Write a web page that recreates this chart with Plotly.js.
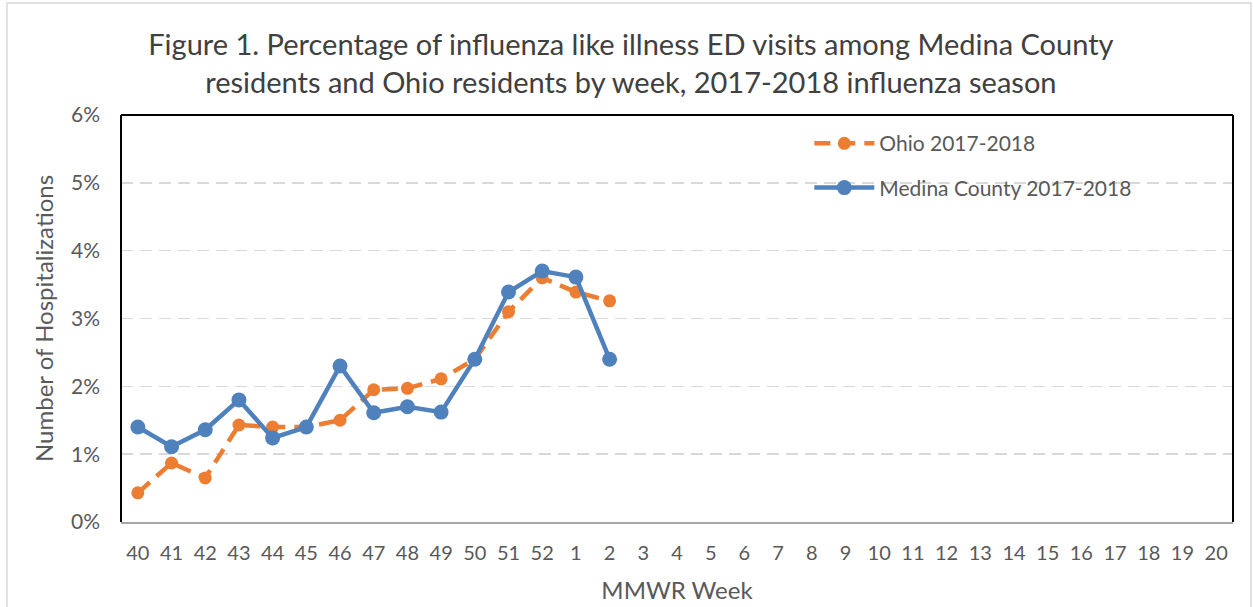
<!DOCTYPE html>
<html><head><meta charset="utf-8">
<script src="https://cdn.plot.ly/plotly-3.0.1.min.js"></script>
<style>html,body{margin:0;padding:0;background:#fff}#chart{width:1253px;height:607px}</style>
</head><body><div id="chart"></div>
<script>
const weeks = ["40","41","42","43","44","45","46","47","48","49","50","51","52","1","2","3","4","5","6","7","8","9","10","11","12","13","14","15","16","17","18","19","20"];
const dataWeeks = ["40","41","42","43","44","45","46","47","48","49","50","51","52","1","2"];
const ohio = [0.43,0.87,0.65,1.43,1.40,1.40,1.50,1.95,1.97,2.11,2.40,3.10,3.60,3.39,3.26];
const medina = [1.40,1.11,1.36,1.80,1.24,1.40,2.30,1.61,1.70,1.62,2.40,3.39,3.70,3.61,2.40];
const yTicks = [0,1,2,3,4,5,6];

const fontFam = 'Lato, "Open Sans", "Liberation Sans", sans-serif';
const traces = [
  {x: dataWeeks, y: ohio, name: 'Ohio 2017-2018', type: 'scatter', mode: 'lines+markers', legendgroup: 'a',
   line: {color: '#ED7D31', width: 4.5, dash: '16px,9px'}, marker: {color: '#ED7D31', size: 13, symbol: 'circle'}},
  {x: dataWeeks, y: medina, name: 'Medina County 2017-2018', type: 'scatter', mode: 'lines+markers', legendgroup: 'b',
   line: {color: '#4F81BD', width: 4.5}, marker: {color: '#4F81BD', size: 15, symbol: 'circle'}}
];
const layout = {
  width: 1253, height: 607,
  margin: {l: 121, r: 20, t: 115, b: 85},
  paper_bgcolor: '#fff', plot_bgcolor: '#fff',
  font: {family: fontFam, color: '#595959', size: 20},
  title: {text: 'Figure 1. Percentage of influenza like illness ED visits among Medina County<br>residents and Ohio residents by week, 2017-2018 influenza season',
          font: {size: 29, color: '#404040', family: fontFam}, x: 0.5035, xanchor: 'center', y: 1 - 55/607, yanchor: 'middle'},
  xaxis: {type: 'category', categoryorder: 'array', categoryarray: weeks, range: [-0.5, 32.5],
          showgrid: false, zeroline: false, showline: true, linecolor: '#a6a6a6', linewidth: 2,
          mirror: false, ticks: '', ticklabelstandoff: 12, tickfont: {size: 20, color: '#595959'}, fixedrange: true,
          title: {text: 'MMWR Week', font: {size: 24, color: '#595959'}, standoff: 19}},
  yaxis: {range: [0, 6], tickvals: yTicks, ticktext: yTicks.map(v => v + '%'),
          showgrid: true, gridcolor: '#d9d9d9', griddash: '12px,7px', gridwidth: 1.5,
          zeroline: false, showline: false, ticks: '', ticklabelstandoff: 20, tickfont: {size: 21, color: '#595959'},
          title: {text: 'Number of Hospitalizations', font: {size: 24, color: '#595959'}, standoff: 10}},
  legend: {x: 0.619, y: 0.98, xanchor: 'left', yanchor: 'top', bgcolor: 'rgba(0,0,0,0)',
           font: {size: 21, color: '#595959'}, tracegroupgap: 14, itemwidth: 60},
  showlegend: true,
  shapes: [
    {type: 'line', xref: 'paper', yref: 'paper', x0: 0, x1: 0, y0: 0, y1: 1, line: {color: '#000', width: 2}},
    {type: 'line', xref: 'paper', yref: 'paper', x0: 0, x1: 1, y0: 1, y1: 1, line: {color: '#000', width: 2}},
    {type: 'line', xref: 'paper', yref: 'paper', x0: 1, x1: 1, y0: 0, y1: 1, line: {color: '#000', width: 2}},
    {type: 'rect', xref: 'paper', yref: 'paper', x0: -114/1112, x1: 1+18/1112, y0: -90/407, y1: 1+112/407,
     line: {color: '#d9d9d9', width: 1.5}, layer: 'below'}
  ]
};
Plotly.newPlot('chart', traces, layout, {displayModeBar: false, staticPlot: true});
</script></body></html>
